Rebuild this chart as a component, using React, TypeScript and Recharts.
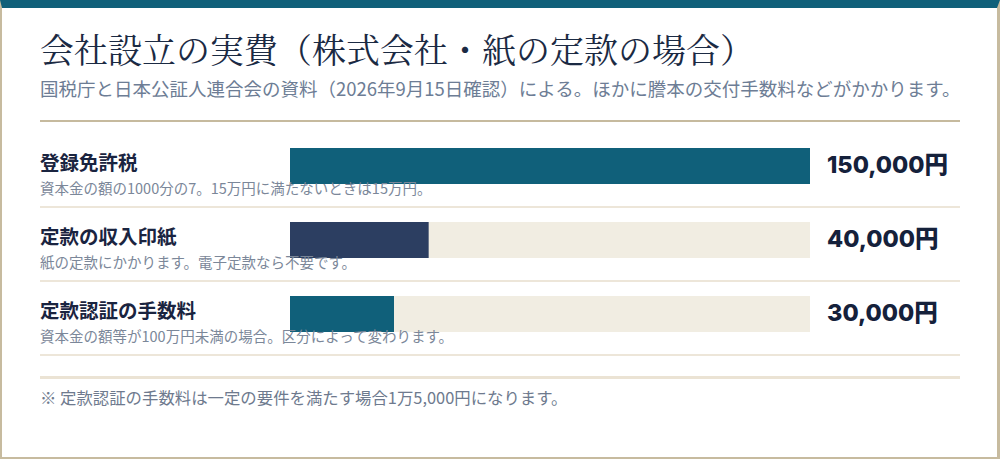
import React from "react";
import { BarChart, Bar, XAxis, YAxis, Cell } from "recharts";

const categories = ["登録免許税", "定款の収入印紙", "定款認証の手数料"];
const notes = [
  "資本金の額の1000分の7。15万円に満たないときは15万円。",
  "紙の定款にかかります。電子定款なら不要です。",
  "資本金の額等が100万円未満の場合。区分によって変わります。",
];
const amounts = [150000, 40000, 30000];
const valueLabels = ["150,000円", "40,000円", "30,000円"];
const barColors = ["#10607a", "#2c3e61", "#10607a"];
const xDomain = [0, 150000];

const titleText = "会社設立の実費（株式会社・紙の定款の場合）";
const subtitleText =
  "国税庁と日本公証人連合会の資料（2026年9月15日確認）による。ほかに謄本の交付手数料などがかかります。";
const footnoteText = "※ 定款認証の手数料は一定の要件を満たす場合1万5,000円になります。";

const data = categories.map((name, i) => ({
  name,
  value: amounts[i],
  label: valueLabels[i],
}));

const JP = "'Noto Sans CJK JP', 'Noto Sans', sans-serif";

const LeftTick = (props: any) => {
  const { x, y, payload, index } = props;
  return (
    <g>
      <text x={x} y={y + 4} textAnchor="start" fontSize={19.5} fontWeight={700} fill="#1a2440" fontFamily={JP}>
        {payload.value}
      </text>
      <text x={x} y={y + 28} textAnchor="start" fontSize={14.5} fill="#7b8799" fontFamily={JP}>
        {notes[index]}
      </text>
    </g>
  );
};

const RightTick = (props: any) => {
  const { x, y, payload } = props;
  return (
    <text
      x={x}
      y={y + 7}
      textAnchor="start"
      fontSize={23.5}
      fontWeight={800}
      fill="#15213b"
      fontFamily={"Inter, " + JP}
    >
      {payload.value}
    </text>
  );
};

const line = (top: number, h: number, color: string): React.CSSProperties => ({
  position: "absolute",
  left: 40,
  top,
  width: 920,
  height: h,
  background: color,
});

export default function App() {
  return (
    <div style={{ position: "fixed", left: 0, top: 0, width: 1000, height: 459, fontFamily: JP, background: "#fff" }}>
      <div
        style={{
          position: "absolute",
          left: 0,
          top: 0,
          width: 1000,
          height: 459,
          boxSizing: "border-box",
          borderTop: "8px solid #10607a",
          borderLeft: "2px solid #c7bb9f",
          borderRight: "3px solid #c7bb9f",
          borderBottom: "2px solid #c7bb9f",
        }}
      />
      <div
        style={{
          position: "absolute",
          left: 40,
          top: 29,
          fontSize: 34,
          lineHeight: "40px",
          color: "#1b2a43",
          whiteSpace: "nowrap",
          fontFamily: "'Noto Serif CJK JP', " + JP,
          fontWeight: 400,
        }}
      >
        {titleText}
      </div>
      <div
        style={{
          position: "absolute",
          left: 40,
          top: 76,
          fontSize: 18.5,
          lineHeight: "24px",
          color: "#6d7d95",
          whiteSpace: "nowrap",
        }}
      >
        {subtitleText}
      </div>
      <div style={line(120, 2, "#c6ba9e")} />
      <div style={line(206, 2, "#ede6d9")} />
      <div style={line(280, 2, "#ede6d9")} />
      <div style={line(354, 2, "#ede6d9")} />
      <div style={line(376, 3, "#ebe3d4")} />
      <div
        style={{
          position: "absolute",
          left: 40,
          top: 387,
          fontSize: 16.4,
          lineHeight: "20px",
          color: "#6e7a8e",
          whiteSpace: "nowrap",
        }}
      >
        {footnoteText}
      </div>
      <div style={{ position: "absolute", left: 0, top: 0 }}>
        <BarChart
          width={1000}
          height={459}
          data={data}
          layout="vertical"
          margin={{ top: 129, bottom: 108, left: 40, right: 40 }}
          barCategoryGap={0}
        >
          <XAxis type="number" domain={xDomain} hide />
          <YAxis
            yAxisId="left"
            type="category"
            dataKey="name"
            width={250}
            axisLine={false}
            tickLine={false}
            tickSize={0}
            tickMargin={250}
            tick={<LeftTick />}
            interval={0}
          />
          <YAxis
            yAxisId="right"
            orientation="right"
            type="category"
            dataKey="label"
            width={150}
            axisLine={false}
            tickLine={false}
            tickSize={0}
            tickMargin={17}
            tick={<RightTick />}
            interval={0}
          />
          <Bar
            yAxisId="left"
            dataKey="value"
            barSize={36}
            background={{ fill: "#f1ede2" }}
            isAnimationActive={false}
          >
            {data.map((d, i) => (
              <Cell key={d.name} fill={barColors[i]} />
            ))}
          </Bar>
        </BarChart>
      </div>
    </div>
  );
}
